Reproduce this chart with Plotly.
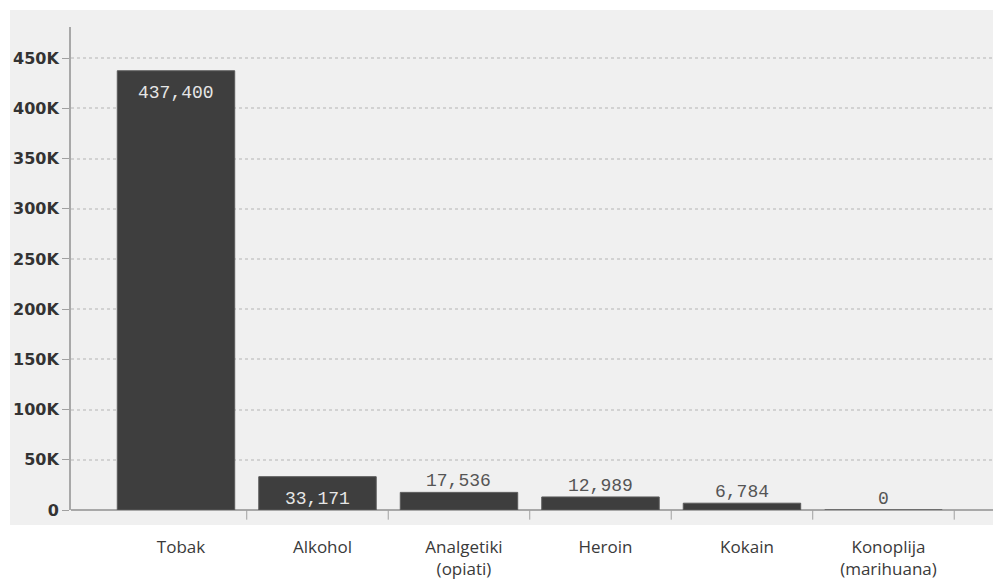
import plotly.graph_objects as go

# Deaths per year by substance
categories = ["Tobak", "Alkohol", "Analgetiki<br>(opiati)", "Heroin", "Kokain", "Konoplija<br>(marihuana)"]
values = [437400, 33171, 17536, 12989, 6784, 0]
y_tickvals = [0, 50000, 100000, 150000, 200000, 250000, 300000, 350000, 400000, 450000]
y_ticktext = ["0", "50K", "100K", "150K", "200K", "250K", "300K", "350K", "400K", "450K"]

# labels sit inside the two tall bars, above the short ones
inside = [True, True, False, False, False, False]

W, H = 993, 581
L, R, T, B = 71, 0, 27, 71

fig = go.Figure()
fig.add_trace(go.Bar(
    x=list(range(len(categories))),
    y=values,
    width=0.83,
    marker=dict(color="#3e3e3e", line=dict(color="#5a5a5a", width=1)),
    hoverinfo="skip",
))

annotations = []
for i, v in enumerate(values):
    label = f"{v:,}"
    if inside[i]:
        annotations.append(dict(
            x=i, y=v, xref="x", yref="y", text=label, showarrow=False,
            yanchor="top", yshift=-10,
            font=dict(family="Liberation Mono", size=18, color="#e6e6e6"),
        ))
    else:
        annotations.append(dict(
            x=i, y=v, xref="x", yref="y", text=label, showarrow=False,
            yanchor="bottom", yshift=-1,
            font=dict(family="Liberation Mono", size=18, color="#555555"),
        ))

# light panel behind the whole chart
shapes = [dict(
    type="rect", xref="paper", yref="paper", layer="below",
    x0=(10 - L) / (W - L - R), x1=1.0,
    y0=-(525 - (H - B)) / (H - T - B), y1=1 + (T - 10) / (H - T - B),
    fillcolor="#f0f0f0", line=dict(width=0),
)]

fig.update_layout(
    width=W, height=H,
    margin=dict(l=L, r=R, t=T, b=B, pad=0),
    paper_bgcolor="white",
    plot_bgcolor="rgba(0,0,0,0)",
    showlegend=False,
    shapes=shapes,
    annotations=annotations,
    xaxis=dict(
        range=[-0.742, 5.774],
        tickmode="array",
        tickvals=list(range(len(categories))),
        ticktext=categories,
        tickfont=dict(family="Open Sans", size=17, color="#3a3a3a"),
        ticklabelstandoff=25,
        ticklabelshift=5,
        ticks="",
        showgrid=False,
        zeroline=False,
        showline=False,
        fixedrange=True,
    ),
    yaxis=dict(
        range=[0, 481000],
        tickmode="array",
        tickvals=y_tickvals,
        ticktext=y_ticktext,
        tickfont=dict(family="DejaVu Sans", size=16, color="#333333", weight="bold"),
        ticks="outside", ticklen=7, tickcolor="#a0a0a0", tickwidth=1,
        showline=True, linecolor="#a8a8a8", linewidth=2,
        showgrid=True, gridcolor="#d2d2d2", griddash="dot", gridwidth=1.5,
        zeroline=True, zerolinecolor="#a8a8a8", zerolinewidth=2,
        fixedrange=True,
    ),
)

# small tick marks on the category boundaries
for k in range(len(categories)):
    fig.add_shape(type="line", xref="x", yref="paper",
                  x0=k + 0.5, x1=k + 0.5, y0=0, y1=-0.02,
                  line=dict(color="#a0a0a0", width=1))

fig.write_html("out.html")
